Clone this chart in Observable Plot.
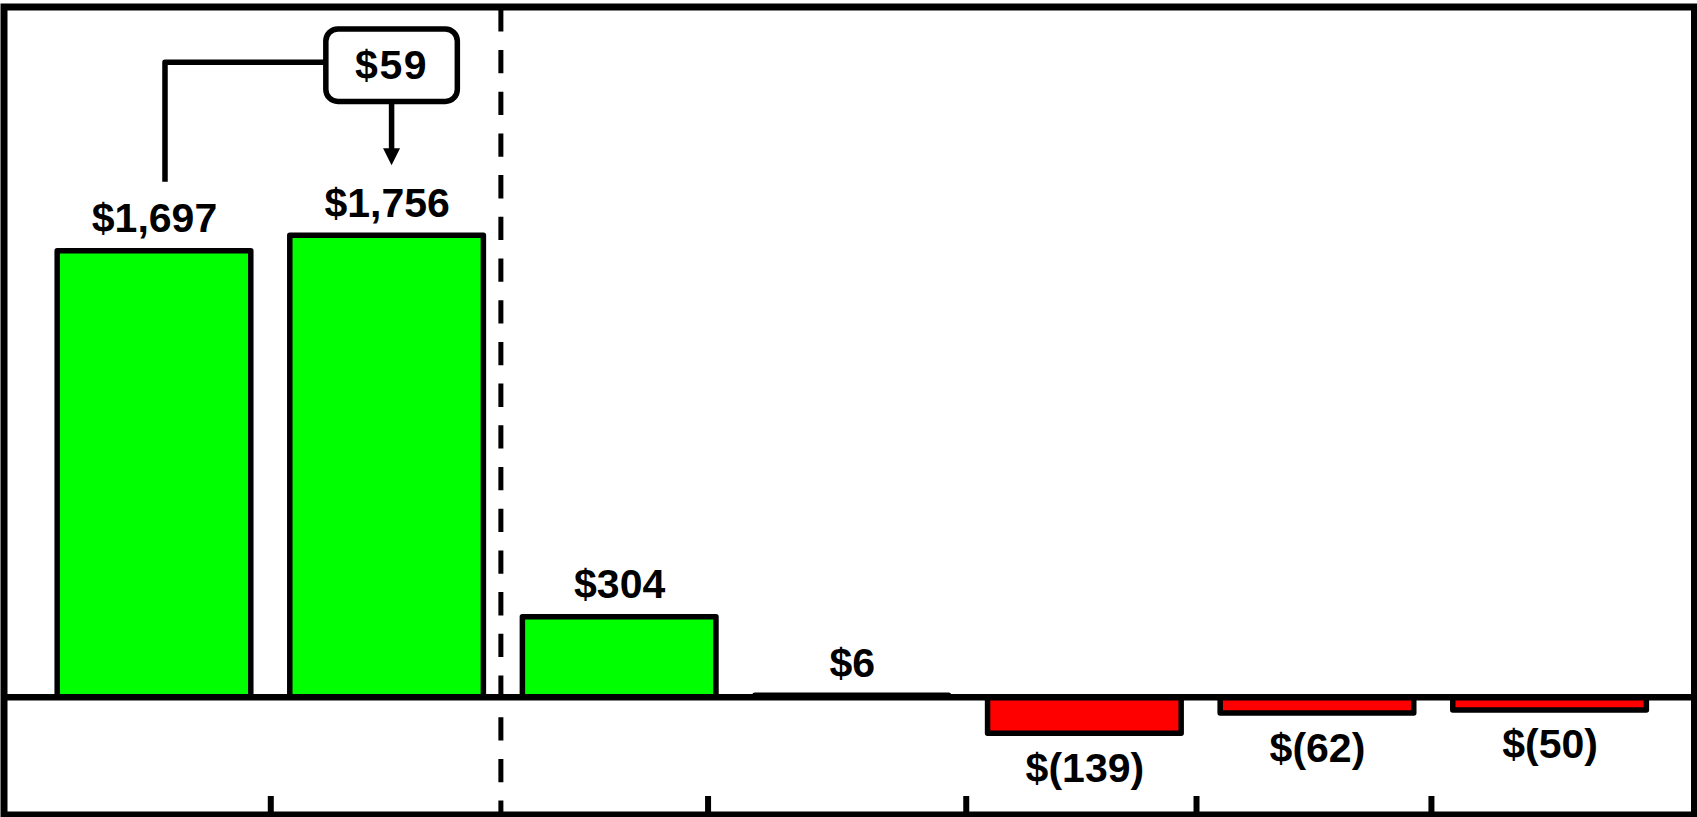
<!DOCTYPE html>
<html>
<head>
<meta charset="utf-8">
<script src="https://cdn.jsdelivr.net/npm/d3@7"></script>
<script src="https://cdn.jsdelivr.net/npm/@observablehq/plot@0.6"></script>
<style>
  html, body { margin: 0; padding: 0; background: #fff; }
  #chart svg { display: block; }
</style>
</head>
<body>
<div id="chart"></div>
<script>
// Bar values in dollars, left to right.
const values = [1697, 1756, 304, 6, -139, -62, -50];
// Slot index of each bar along the x axis.
const slots = [0, 1, 2, 3, 4, 5, 6];
// Short separator ticks along the bottom edge, in slot units.
const separatorTicks = [1, 2.88, 3.99, 4.98, 5.99];
// Dashed divider between the two totals and the change bars.
const divider = [2];
// The bridge callout compares these two bars.
const bridgeFrom = 0;
const bridgeTo = 1;

const W = 1697, H = 817;
const margin = {top: 6.5, right: 3, bottom: 2.5, left: 3.5};
const xDomain = [-0.147, 7.121];
const yDomain = [-448, 2626];
const pxPerUnit = (H - margin.top - margin.bottom) / (yDomain[1] - yDomain[0]);

const fmt = d3.format(",");
const money = v => v < 0 ? `$(${fmt(-v)})` : `$${fmt(v)}`;

const rows = values.map((v, i) => ({slot: slots[i], value: v, label: money(v)}));
const gains = rows.filter(d => d.value >= 0);
const losses = rows.filter(d => d.value < 0);

const FONT = "'Liberation Sans', Arial, Helvetica, sans-serif";
const FONT_SIZE = 41;
const labelStyle = {fontSize: FONT_SIZE, fontWeight: "bold", fontFamily: FONT, fill: "black", letterSpacing: "1.5px"};

const barStyle = {
  x1: "slot",
  x2: d => d.slot + 1,
  y1: 0,
  y2: "value",
  stroke: "black",
  strokeWidth: 5.5,
  strokeLinejoin: "round",
  insetLeft: 19.5,
  insetRight: 19.5
};

// Callout: elbow connector from the first total up to a rounded box
// holding the difference, with an arrow down to the second total.
function bridge(index, {x, y}) {
  const a = values[bridgeFrom], b = values[bridgeTo];
  const xa = x(slots[bridgeFrom] + 0.5) + 11;
  const xb = x(slots[bridgeTo] + 0.5) + 5;
  const ya = y(a) - 69;
  const tip = y(b) - 70;
  const cy = y(Math.max(a, b)) - 170;
  const bw = 131.5, bh = 72.5;
  const level = cy - 3;
  const g = d3.create("svg:g")
    .attr("fill", "none")
    .attr("stroke", "black")
    .attr("stroke-width", 5.5);
  g.append("path")
    .attr("stroke-linejoin", "round")
    .attr("d", `M${xa},${ya}V${level}H${xb - bw / 2}`);
  g.append("rect")
    .attr("x", xb - bw / 2).attr("y", cy - bh / 2)
    .attr("width", bw).attr("height", bh)
    .attr("rx", 12).attr("ry", 12)
    .attr("fill", "white");
  g.append("path")
    .attr("d", `M${xb},${cy + bh / 2}V${tip - 14}`);
  g.append("path")
    .attr("fill", "black").attr("stroke", "none")
    .attr("d", `M${xb - 8.5},${tip - 17}L${xb + 8.5},${tip - 17}L${xb},${tip}Z`);
  g.append("text")
    .attr("x", xb).attr("y", cy + 14)
    .attr("text-anchor", "middle")
    .attr("stroke", "none").attr("fill", "black")
    .attr("font-family", FONT).attr("font-weight", "bold")
    .attr("font-size", FONT_SIZE).attr("letter-spacing", "1.5px")
    .text(money(b - a));
  return g.node();
}

const chart = Plot.plot({
  width: W,
  height: H,
  marginTop: margin.top,
  marginRight: margin.right,
  marginBottom: margin.bottom,
  marginLeft: margin.left,
  style: {background: "white"},
  x: {type: "linear", domain: xDomain, axis: null},
  y: {type: "linear", domain: yDomain, axis: null},
  marks: [
    Plot.rect(gains, {...barStyle, fill: "#00ff00"}),
    Plot.rect(losses, {...barStyle, fill: "#ff0000"}),
    Plot.ruleY([0], {stroke: "black", strokeWidth: 6.7}),
    Plot.ruleX(divider, {stroke: "black", strokeWidth: 5, strokeDasharray: "23.3,18.4", strokeDashoffset: 39.9, dx: -2.5}),
    Plot.ruleX(separatorTicks, {y1: yDomain[0], y2: yDomain[0] + 18.5 / pxPerUnit, stroke: "black", strokeWidth: 6}),
    Plot.text(gains, {x: d => d.slot + 0.5, y: "value", text: "label", lineAnchor: "bottom", dy: -19, ...labelStyle}),
    Plot.text(losses, {x: d => d.slot + 0.5, y: "value", text: "label", lineAnchor: "bottom", dy: 48, ...labelStyle}),
    bridge,
    Plot.frame({stroke: "black", strokeWidth: 7})
  ]
});

document.getElementById("chart").appendChild(chart);
</script>
</body>
</html>
